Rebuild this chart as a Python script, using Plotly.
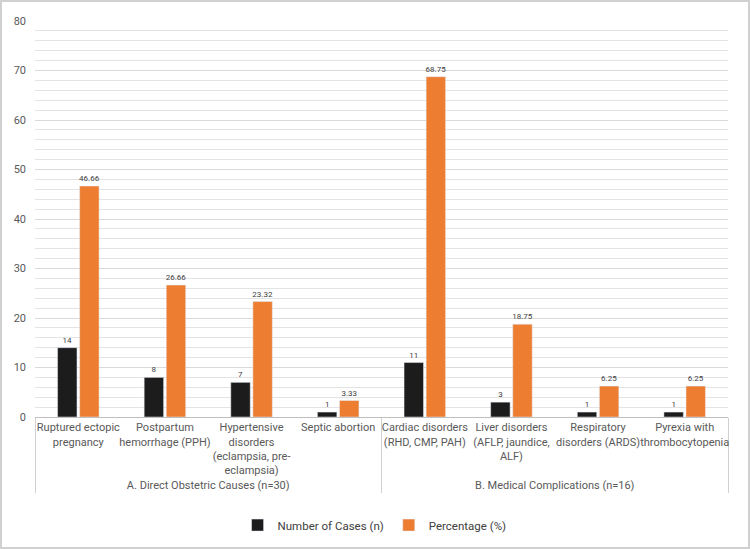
import plotly.graph_objects as go

groups = ["A. Direct Obstetric Causes (n=30)"] * 4 + ["B. Medical Complications (n=16)"] * 4
categories = [
    "Ruptured ectopic<br>pregnancy",
    "Postpartum<br>hemorrhage (PPH)",
    "Hypertensive<br>disorders<br>(eclampsia, pre-<br>eclampsia)",
    "Septic abortion",
    "Cardiac disorders<br>(RHD, CMP, PAH)",
    "Liver disorders<br>(AFLP, jaundice,<br>ALF)",
    "Respiratory<br>disorders (ARDS)",
    "Pyrexia with<br>thrombocytopenia",
]
cases = [14, 8, 7, 1, 11, 3, 1, 1]
percent = [46.66, 26.66, 23.32, 3.33, 68.75, 18.75, 6.25, 6.25]
cases_lbl = ["14", "8", "7", "1", "11", "3", "1", "1"]
percent_lbl = ["46.66", "26.66", "23.32", "3.33", "68.75", "18.75", "6.25", "6.25"]

font_family = "Roboto, Liberation Sans, sans-serif"
x = [groups, categories]

fig = go.Figure()
fig.add_trace(go.Bar(
    x=x, y=cases, name="Number of Cases (n)", marker_color="#1c1c1c",
    text=cases_lbl, textposition="outside", cliponaxis=False,
    textfont=dict(size=8, color="#404040"),
))
fig.add_trace(go.Bar(
    x=x, y=percent, name="Percentage (%)", marker_color="#ED7D31",
    text=percent_lbl, textposition="outside", cliponaxis=False,
    textfont=dict(size=8, color="#404040"),
))

L, R, T, B = 35, 22, 21, 132
W, H = 750, 549
pw, ph = W - L - R, H - T - B

fig.update_layout(
    width=W, height=H,
    margin=dict(l=L, r=R, t=T, b=B, autoexpand=False),
    paper_bgcolor="white", plot_bgcolor="white",
    barmode="group", bargap=0.49, bargroupgap=0.12,
    font=dict(family=font_family, color="#595959", size=11),
    legend=dict(orientation="h", x=0.49, xanchor="center", y=-0.273, yanchor="middle",
                font=dict(size=11.5, color="#404040"), traceorder="normal",
                itemwidth=30),
    showlegend=True,
    uniformtext=dict(minsize=8, mode="show"),
)
fig.update_yaxes(
    range=[0, 80], dtick=10, showgrid=True, gridcolor="#d9d9d9", gridwidth=1,
    minor=dict(dtick=2, showgrid=True, gridcolor="#e3e3e3", gridwidth=1),
    zeroline=False, ticks="", tickfont=dict(size=11, color="#595959"),
    showline=False, ticklabelstandoff=8, automargin=False,
)
fig.update_xaxes(
    type="multicategory", showline=True, linecolor="#bfbfbf", linewidth=1,
    showdividers=True, dividercolor="#d0d0d0", dividerwidth=1,
    tickfont=dict(size=11, color="#595959"), ticks="", tickangle=0,
    automargin=False,
)
# outer frame
fig.add_shape(type="rect", xref="paper", yref="paper",
              x0=(1 - L) / pw, x1=(W - 1 - L) / pw,
              y0=-(H - 1 - T - ph) / ph, y1=1 + (T - 1) / ph,
              line=dict(color="#d0d0d0", width=2), fillcolor="rgba(0,0,0,0)", layer="below")

fig.write_html("out.html")
